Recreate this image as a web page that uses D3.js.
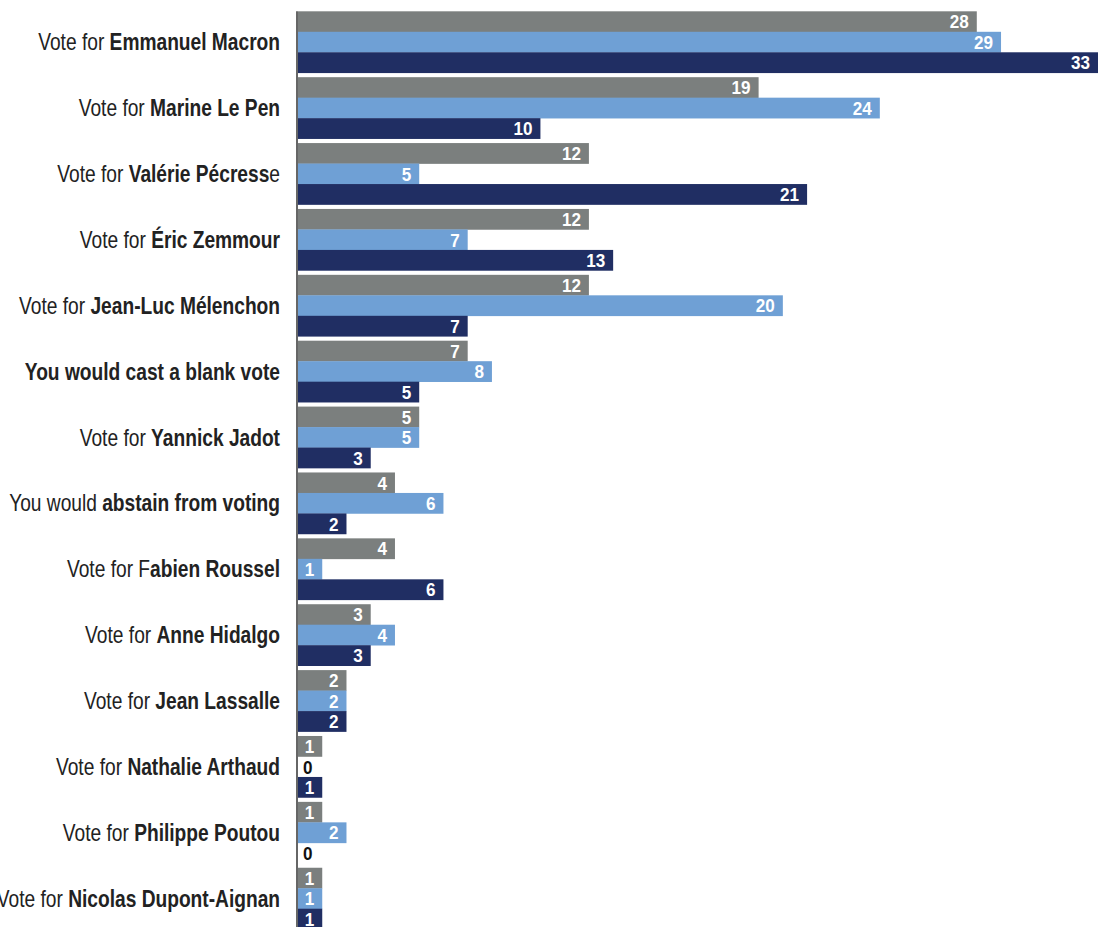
<!DOCTYPE html>
<html>
<head>
<meta charset="utf-8">
<script src="https://cdn.jsdelivr.net/npm/d3@7"></script>
<style>
  html, body { margin: 0; padding: 0; background: #ffffff; }
  svg { display: block; }
  text { font-family: "Liberation Sans", Arial, Helvetica, sans-serif; }
</style>
</head>
<body>
<div id="chart"></div>
<script>
// Category labels: [regular part, bold part, trailing regular part]
const categories = [
  ["Vote for ", "Emmanuel Macron", ""],
  ["Vote for ", "Marine Le Pen", ""],
  ["Vote for ", "Valérie Pécress", "e"],
  ["Vote for ", "Éric Zemmour", ""],
  ["Vote for ", "Jean-Luc Mélenchon", ""],
  ["", "You would cast a blank vote", ""],
  ["Vote for ", "Yannick Jadot", ""],
  ["You would ", "abstain from voting", ""],
  ["Vote for F", "abien Roussel", ""],
  ["Vote for ", "Anne Hidalgo", ""],
  ["Vote for ", "Jean Lassalle", ""],
  ["Vote for ", "Nathalie Arthaud", ""],
  ["Vote for ", "Philippe Poutou", ""],
  ["Vote for ", "Nicolas Dupont-Aignan", ""]
];
const seriesNames = ["Series 1", "Series 2", "Series 3"];
const series1 = [28, 19, 12, 12, 12, 7, 5, 4, 4, 3, 2, 1, 1, 1];
const series2 = [29, 24, 5, 7, 20, 8, 5, 6, 1, 4, 2, 0, 2, 1];
const series3 = [33, 10, 21, 13, 7, 5, 3, 2, 6, 3, 2, 1, 0, 1];
const seriesColors = ["#7b7f7e", "#6fa0d5", "#202e63"];

const W = 1103, H = 927;
const allSeries = [series1, series2, series3];

const svg = d3.select("#chart").append("svg").attr("width", W).attr("height", H);

const x = d3.scaleLinear().domain([0, 33]).range([298, 1098]);
const idx = categories.map((d, i) => i);
const y = d3.scaleBand().domain(idx).range([9.1, 9.1 + 14 * 65.88]).paddingInner(0.067).paddingOuter(0.0335);
const ySub = d3.scaleBand().domain([0, 1, 2]).range([0, y.bandwidth()]);

const rows = [];
idx.forEach(i => {
  allSeries.forEach((s, k) => rows.push({ cat: i, k: k, v: s[i] }));
});

const g = svg.append("g");
g.selectAll("rect.bar").data(rows).join("rect")
  .attr("class", "bar")
  .attr("x", x(0))
  .attr("y", d => y(d.cat) + ySub(d.k))
  .attr("width", d => x(d.v) - x(0))
  .attr("height", ySub.bandwidth() + 0.3)
  .attr("fill", d => seriesColors[d.k]);

const valScale = 0.9;
g.selectAll("text.val").data(rows).join("text")
  .attr("class", "val")
  .attr("transform", d => {
    const tx = d.v > 0 ? x(d.v) - 8 : x(0) + 5;
    const ty = y(d.cat) + ySub(d.k) + ySub.bandwidth() / 2;
    return `translate(${tx},${ty}) scale(${valScale},1)`;
  })
  .attr("dy", "0.36em")
  .attr("text-anchor", d => d.v > 0 ? "end" : "start")
  .attr("fill", d => d.v > 0 ? "#ffffff" : "#111111")
  .attr("font-size", 19)
  .attr("font-weight", "bold")
  .text(d => d.v);

// axis line
svg.append("line")
  .attr("x1", 297).attr("x2", 297)
  .attr("y1", y(0)).attr("y2", H)
  .attr("stroke", "#333333").attr("stroke-width", 1.5);

// category labels
const lab = svg.selectAll("text.cat").data(categories).join("text")
  .attr("class", "cat")
  .attr("x", 0)
  .attr("dy", "0.36em")
  .attr("text-anchor", "end")
  .attr("font-size", 23)
  .attr("fill", "#222222");
lab.append("tspan").text(d => d[0]);
lab.append("tspan").attr("font-weight", "bold").text(d => d[1]);
lab.append("tspan").text(d => d[2]);

// condense horizontally to mimic a condensed typeface
const refLen = lab.nodes()[0].getComputedTextLength();
const sx = 242 / refLen;
lab.attr("transform", (d, i) => `translate(280,${y(i) + y.bandwidth() / 2}) scale(${sx},1)`);
</script>
</body>
</html>
